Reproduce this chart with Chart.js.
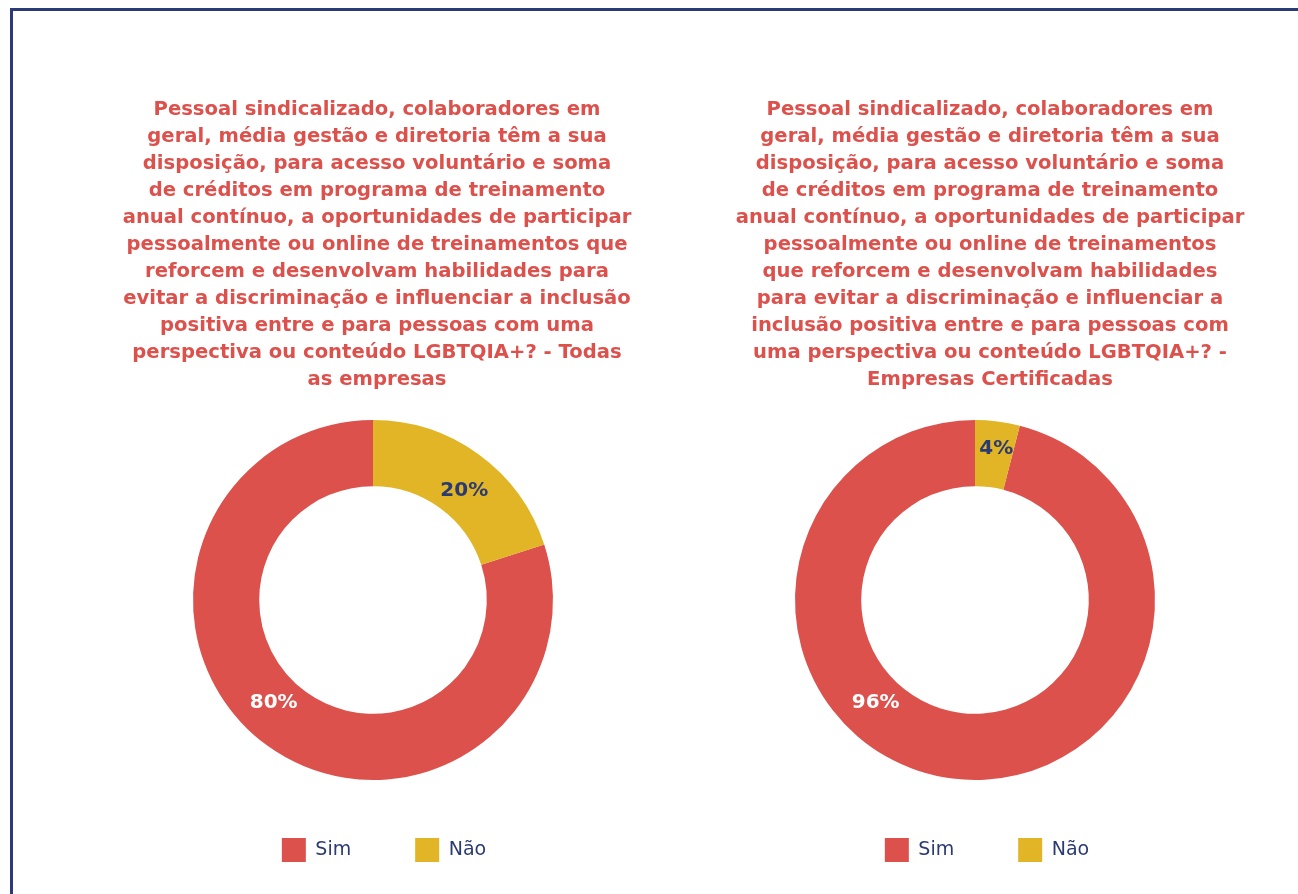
<!DOCTYPE html>
<html>
<head>
<meta charset="utf-8">
<script src="https://cdn.jsdelivr.net/npm/chart.js@4.4.0/dist/chart.umd.min.js"></script>
<style>
  html, body { margin: 0; padding: 0; background: #fff; width: 1298px; height: 894px; overflow: hidden; }
  #frame { position: absolute; left: 10px; top: 8px; width: 1300px; height: 900px; border: 3px solid #2d3a78; box-sizing: border-box; }
  .box { position: absolute; top: 60px; width: 610px; height: 812px; }
  #box1 { left: 72px; }
  #box2 { left: 685px; }
</style>
</head>
<body>
<div id="frame"></div>
<div class="box" id="box1"><canvas id="chartAll"></canvas></div>
<div class="box" id="box2"><canvas id="chartCert"></canvas></div>
<script>
// data
const labels = ['Sim', 'Não'];
const valuesAll = [80, 20];
const valuesCert = [96, 4];

const titleAll = [
  'Pessoal sindicalizado, colaboradores em',
  'geral, média gestão e diretoria têm a sua',
  'disposição, para acesso voluntário e soma',
  'de créditos em programa de treinamento',
  'anual contínuo, a oportunidades de participar',
  'pessoalmente ou online de treinamentos que',
  'reforcem e desenvolvam habilidades para',
  'evitar a discriminação e influenciar a inclusão',
  'positiva entre e para pessoas com uma',
  'perspectiva ou conteúdo LGBTQIA+? - Todas',
  'as empresas'
];
const titleCert = [
  'Pessoal sindicalizado, colaboradores em',
  'geral, média gestão e diretoria têm a sua',
  'disposição, para acesso voluntário e soma',
  'de créditos em programa de treinamento',
  'anual contínuo, a oportunidades de participar',
  'pessoalmente ou online de treinamentos',
  'que reforcem e desenvolvam habilidades',
  'para evitar a discriminação e influenciar a',
  'inclusão positiva entre e para pessoas com',
  'uma perspectiva ou conteúdo LGBTQIA+? -',
  'Empresas Certificadas'
];

const RED = '#dc514c';
const YELLOW = '#e1b525';
const NAVY = '#2b3a72';
const FONT = '"DejaVu Sans", Verdana, sans-serif';

// nudge the doughnut and the legend sideways inside their canvas
const shiftPlugin = {
  id: 'shiftArea',
  afterLayout(chart, args, opts) {
    const s = opts.x || 0;
    chart.chartArea.left += s;
    chart.chartArea.right += s;
    const l = opts.legendX || 0;
    chart.legend.left += l;
    chart.legend.right += l;
  }
};

// percent labels on the slices
const sliceLabels = {
  id: 'sliceLabels',
  afterDatasetsDraw(chart, args, opts) {
    const c = chart.ctx;
    const data = chart.data.datasets[0].data;
    const total = data.reduce((a, b) => a + b, 0);
    chart.getDatasetMeta(0).data.forEach((arc, i) => {
      const p = arc.getProps(['x', 'y', 'startAngle', 'endAngle', 'innerRadius', 'outerRadius'], true);
      let ang = (p.startAngle + p.endAngle) / 2;
      if (opts.angles && opts.angles[i] != null) ang = opts.angles[i] * Math.PI / 180 - Math.PI / 2;
      let r = (p.innerRadius + p.outerRadius) / 2;
      if (opts.radii && opts.radii[i] != null) r = opts.radii[i];
      c.save();
      c.font = 'bold 20px ' + FONT;
      c.fillStyle = opts.colors[i];
      c.textAlign = 'center';
      c.textBaseline = 'middle';
      c.fillText(Math.round(data[i] / total * 100) + '%', p.x + Math.cos(ang) * r, p.y + Math.sin(ang) * r);
      c.restore();
    });
  }
};

function makeChart(id, values, title, shiftX, legendX, angles, radii) {
  const total = values.reduce((a, b) => a + b, 0);
  return new Chart(document.getElementById(id).getContext('2d'), {
    type: 'doughnut',
    data: {
      labels: labels,
      datasets: [{
        data: values,
        backgroundColor: [RED, YELLOW],
        borderWidth: 0,
        hoverOffset: 0
      }]
    },
    options: {
      responsive: true,
      maintainAspectRatio: false,
      animation: false,
      rotation: values[1] / total * 360,
      radius: 180,
      cutout: 110,
      layout: { padding: 0 },
      plugins: {
        title: {
          display: true,
          text: title,
          color: RED,
          font: { family: FONT, size: 19.6, weight: 'bold', lineHeight: 27 / 19.6 },
          padding: { top: 36, bottom: 33 }
        },
        legend: {
          position: 'bottom',
          labels: {
            boxWidth: 24,
            boxHeight: 24,
            padding: 64,
            color: NAVY,
            font: { family: FONT, size: 19 }
          }
        },
        tooltip: { enabled: false },
        shiftArea: { x: shiftX, legendX: legendX },
        sliceLabels: { colors: ['#ffffff', NAVY], angles: angles, radii: radii }
      }
    },
    plugins: [shiftPlugin, sliceLabels]
  });
}

makeChart('chartAll', valuesAll, titleAll, -4, 7, [224, 40], [143, 142]);
makeChart('chartCert', valuesCert, titleCert, -15, -3, [224, 8], [143, 153]);
</script>
</body>
</html>
